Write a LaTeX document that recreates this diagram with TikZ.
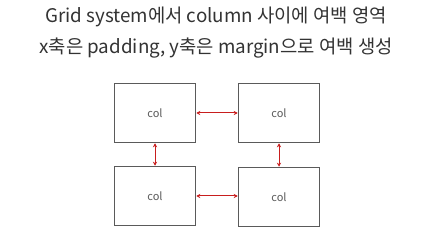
\documentclass[tikz,border=0pt]{standalone}
\usepackage{fontspec}
\setmainfont{Noto Sans CJK KR}
\usetikzlibrary{calc}
\usetikzlibrary{positioning}
\usetikzlibrary{arrows.meta}
\definecolor{boxgray}{HTML}{5A5A5A}
\definecolor{gapred}{HTML}{C81E1E}
\definecolor{textgray}{HTML}{333333}
\tikzstyle{colnode} = [draw=boxgray, line width=1.5pt, rectangle, minimum width=81pt, minimum height=59pt, font=\fontsize{11}{13}\selectfont, text=boxgray]
\tikzstyle{gap} = [draw=gapred, line width=1pt, <->, >={Stealth[length=4pt,width=4pt]}]

\begin{document}
\begin{tikzpicture}[x=1pt, y=-1pt]
\useasboundingbox (0,0) rectangle (422,245);
\node[text=textgray, font=\fontsize{18.8}{31}\selectfont, align=center] (title) at (216,32.5) {Grid system에서 column 사이에 여백 영역\\x축은 padding, y축은 margin으로 여백 생성};
\node[colnode] (tl) at (155,113) {col};
\node[colnode] (tr) at ($(tl)+(124,0)$) {col};
\node[colnode] (bl) at ($(tl)+(0,83)$) {col};
\node[colnode] (br) at ($(tr)+(0,84)$) {col};
\draw[gap] (tl.east) -- (tr.west);
\draw[gap] (bl.east) -- (bl.east -| br.west);
\draw[gap] (tl.south) -- (bl.north);
\draw[gap] (tr.south) -- (br.north);
\end{tikzpicture}
\end{document}
